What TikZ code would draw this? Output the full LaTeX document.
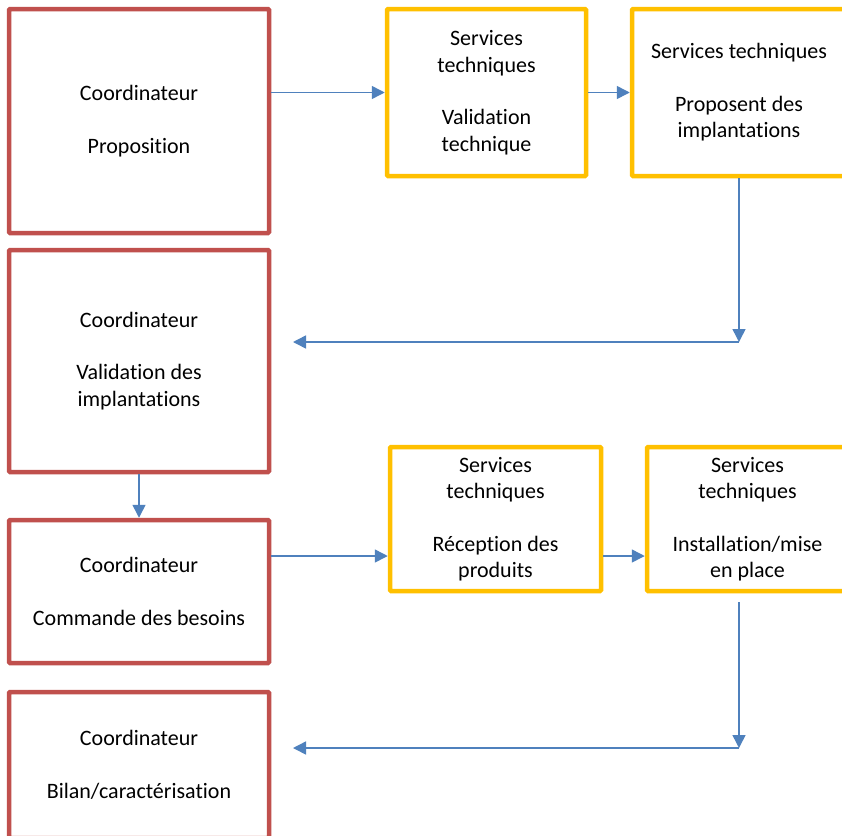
\documentclass[tikz,border=0pt]{standalone}
\usepackage{fontspec}
\setmainfont{Carlito}[Ligatures=NoCommon]
\usetikzlibrary{arrows.meta}
\definecolor{boxred}{HTML}{C0504D}
\definecolor{boxyellow}{HTML}{FFC000}
\definecolor{arrowblue}{HTML}{4F81BD}
\begin{document}
\begin{tikzpicture}[x=1pt,y=-1pt,
  redbox/.style={draw=boxred,line width=4.5pt,fill=white,inner sep=0pt,align=center,rounded corners=1pt,
    font=\fontsize{22}{26.5}\selectfont},
  yellowbox/.style={draw=boxyellow,line width=4.5pt,fill=white,inner sep=0pt,align=center,rounded corners=1pt,
    font=\fontsize{22}{26.5}\selectfont},
  flow/.style={draw=arrowblue,line width=1.5pt,-{Triangle[length=13pt,width=13pt]}}]
\useasboundingbox (0,0) rectangle (842,835);
\fill[white] (0,0) rectangle (842,835);

\node[redbox,minimum width=260pt,minimum height=224pt] (b1) at (139,121) {Coordinateur\\[26pt]Proposition};
\node[yellowbox,minimum width=199pt,minimum height=167pt] (b2) at (486.5,92.5) {Services\\techniques\\[26pt]Validation\\technique};
\node[yellowbox,minimum width=214pt,minimum height=167pt] (b3) at (739,92.5) {Services techniques\\[26pt]Proposent des\\implantations};
\node[redbox,minimum width=260pt,minimum height=222pt] (b4) at (139,361) {Coordinateur\\[26pt]Validation des\\implantations};
\node[redbox,minimum width=260pt,minimum height=143pt] (b5) at (139,591.5) {Coordinateur\\[26pt]Commande des besoins};
\node[yellowbox,minimum width=211pt,minimum height=144pt] (b6) at (495.5,519) {Services\\techniques\\[26pt]R\'eception des\\produits};
\node[yellowbox,minimum width=201pt,minimum height=144pt] (b7) at (747.5,519) {Services\\techniques\\[26pt]Installation/mise\\en place};
\node[redbox,minimum width=260pt,minimum height=146pt] (b8) at (139,765) {Coordinateur\\[26pt]Bilan/caract\'erisation};

\coordinate (c1) at (739,342);
\coordinate (t1) at (293,342);
\coordinate (s2) at (739,602);
\coordinate (c2) at (739,748);
\coordinate (t2) at (293,748);

\draw[flow] (b1.east |- b2.west) -- (b2.west);
\draw[flow] (b2.east) -- (b3.west);
\draw[flow] (b3.south -| c1) -- (c1);
\draw[flow] (c1) -- (t1);
\draw[flow] (b4.south) -- (b5.north);
\draw[flow] ([yshift=-37pt]b6.west -| b5.east) -- ([yshift=-37pt]b6.west);
\draw[flow] ([yshift=-37pt]b6.east) -- ([yshift=-37pt]b7.west);
\draw[flow] (s2) -- (c2);
\draw[flow] (c2) -- (t2);
\end{tikzpicture}
\end{document}
